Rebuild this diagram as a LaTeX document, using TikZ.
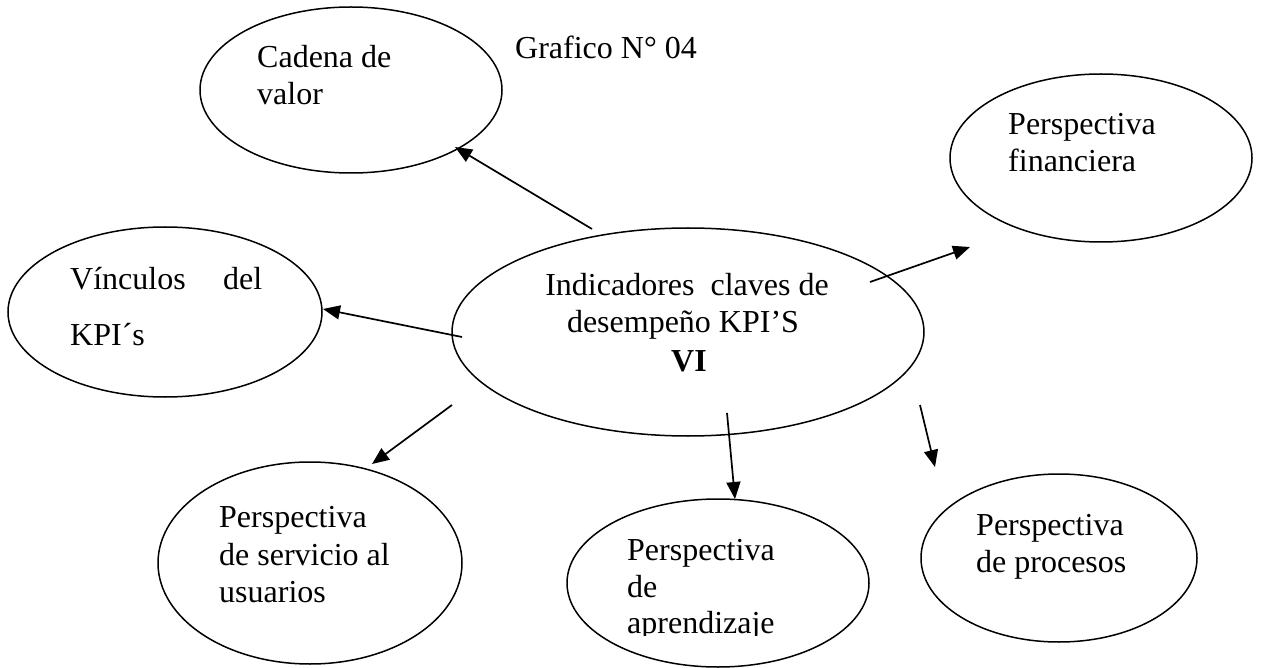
\documentclass[tikz,border=0pt]{standalone}
\usepackage{fontspec}
\setmainfont{Liberation Serif}
\usetikzlibrary{shapes.geometric,arrows.meta}

\tikzset{
  bubble/.style={draw, ellipse, line width=1.5pt, inner sep=0pt},
  arr/.style={line width=1.7pt, -{Triangle[length=17pt,width=14pt]}},
  txt/.style={anchor=base west, inner sep=0pt, font=\fontsize{32}{37}\selectfont},
  ctxt/.style={anchor=base, inner sep=0pt, font=\fontsize{32}{37}\selectfont},
}

\begin{document}
\begin{tikzpicture}[x=1pt, y=-1pt]
\useasboundingbox (0,0) rectangle (1261,668);

% ellipses
\node[bubble, minimum width=302pt, minimum height=166pt] (cadena) at (351,90) {};
\node[bubble, minimum width=302pt, minimum height=168pt] (finan)  at (1101,158) {};
\node[bubble, minimum width=314pt, minimum height=170pt] (vinc)   at (165,312) {};
\node[bubble, minimum width=472pt, minimum height=208pt] (kpi)    at (688,332) {};
\node[bubble, minimum width=304pt, minimum height=202pt] (serv)   at (310,563) {};
\node[bubble, minimum width=302pt, minimum height=168pt] (apr)    at (718,583) {};
\node[bubble, minimum width=276pt, minimum height=168pt] (proc)   at (1059,558) {};

% texts
\node[txt] (tg)  at (515,59)  {Grafico N° 04};
\node[txt] (tc1) at (257,68)  {Cadena de};
\node[txt] (tc2) at (257,105) {valor};
\node[txt] (tf1) at (1008,135) {Perspectiva};
\node[txt] (tf2) at (1008,172) {financiera};
\node[txt] (tv1) at (70,290)  {\hbox to 192pt{Vínculos\hfil del}};
\node[txt] (tv2) at (70,345)  {KPI´s};
\node[ctxt] (tk1) at (687,296) {Indicadores\ \ claves de};
\node[ctxt] (tk2) at (683,332) {desempeño KPI’S};
\node[ctxt] (tk3) at (689,371) {\bfseries VI};
\node[txt] (ts1) at (219,527) {Perspectiva};
\node[txt] (ts2) at (219,565) {de servicio al};
\node[txt] (ts3) at (219,602) {usuarios};
\begin{scope}
  \clip (0,0) rectangle (1261,635);
  \node[txt] (ta1) at (627,560) {Perspectiva};
  \node[txt] (ta2) at (627,597) {de};
  \node[txt] (ta3) at (627,633) {aprendizaje};
\end{scope}
\node[txt] (tp1) at (976,535) {Perspectiva};
\node[txt] (tp2) at (976,572) {de procesos};

% connector ends
\coordinate (s1) at (592,229); \coordinate (e1) at (455,147);
\coordinate (s2) at (870,282); \coordinate (e2) at (970,247);
\coordinate (s3) at (462,337); \coordinate (e3) at (323,309);
\coordinate (s4) at (452,405); \coordinate (e4) at (372,464);
\coordinate (s5) at (727,413); \coordinate (e5) at (735,499);
\coordinate (s6) at (920,405); \coordinate (e6) at (935,467);

% connectors
\draw[arr] (s1) -- (e1);
\draw[arr] (s2) -- (e2);
\draw[arr] (s3) -- (e3);
\draw[arr] (s4) -- (e4);
\draw[arr] (s5) -- (e5);
\draw[arr] (s6) -- (e6);
\end{tikzpicture}
\end{document}
